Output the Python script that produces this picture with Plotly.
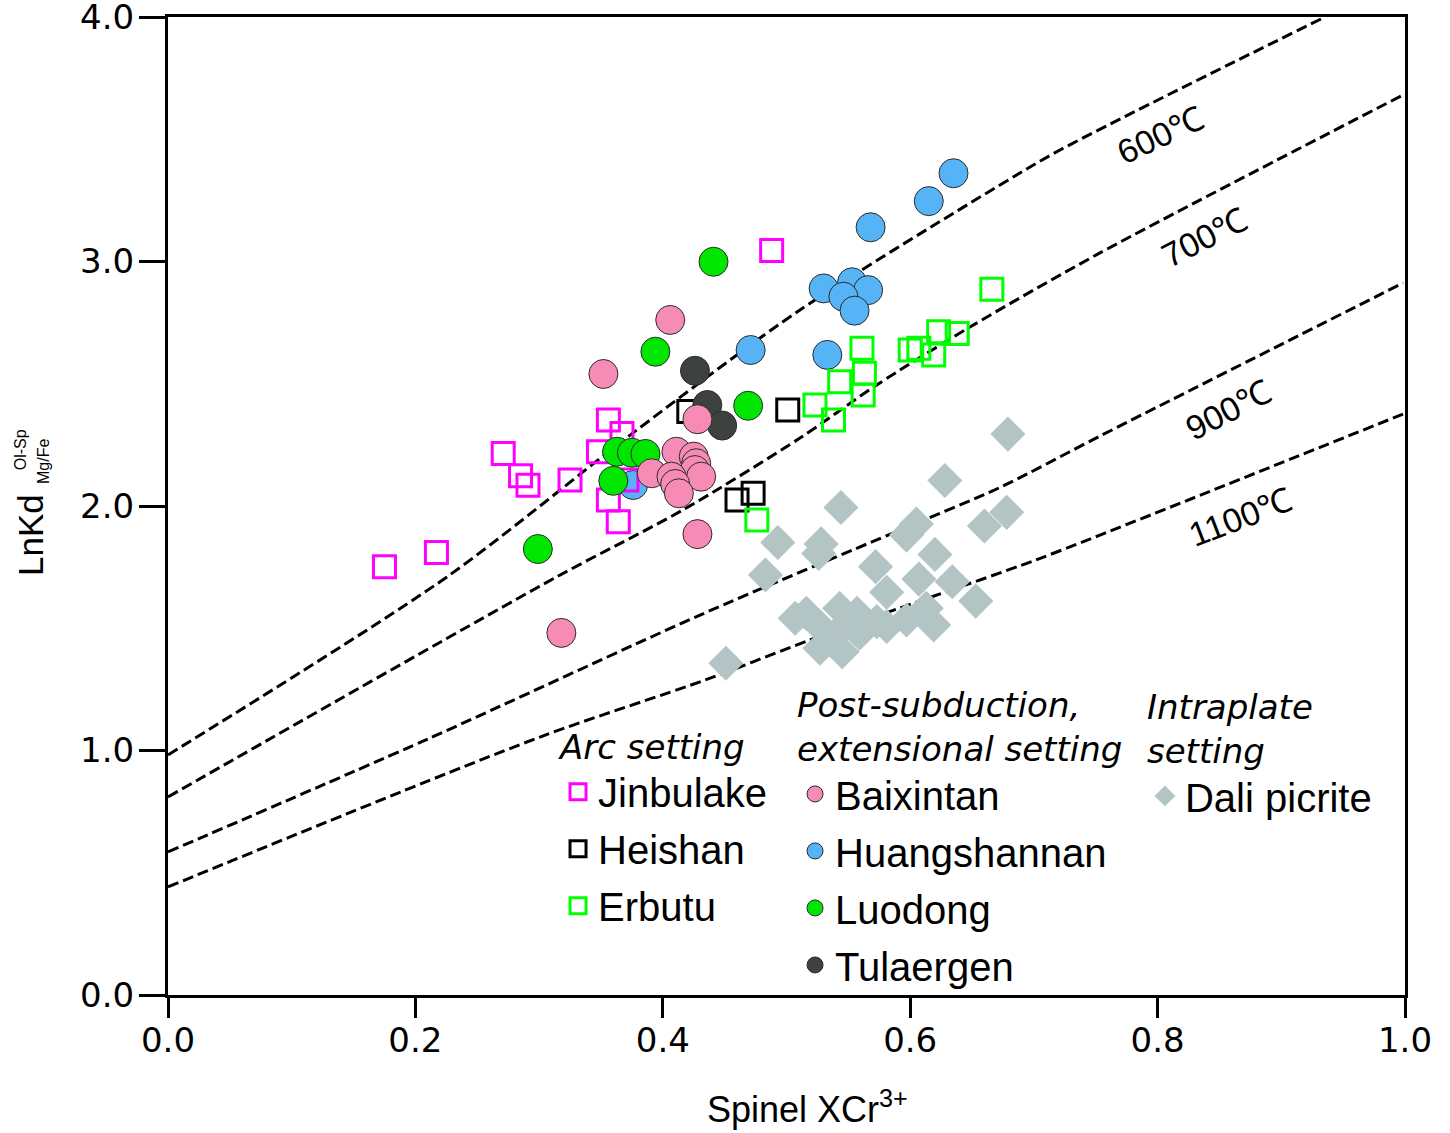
import plotly.graph_objects as go

# ---------------- data ----------------
jinbulake_x = [0.488, 0.271, 0.285, 0.291, 0.325, 0.356, 0.367, 0.348, 0.371, 0.356, 0.364, 0.217, 0.175]
jinbulake_y = [3.045, 2.215, 2.124, 2.085, 2.106, 2.352, 2.297, 2.222, 2.106, 2.025, 1.936, 1.810, 1.752]

heishan_x = [0.421, 0.501, 0.460, 0.473]
heishan_y = [2.386, 2.393, 2.025, 2.052]

erbutu_x = [0.561, 0.563, 0.543, 0.562, 0.523, 0.538, 0.600, 0.607, 0.623, 0.638, 0.619, 0.666, 0.476]
erbutu_y = [2.645, 2.543, 2.508, 2.454, 2.413, 2.352, 2.638, 2.645, 2.713, 2.706, 2.618, 2.886, 1.943]

baixintan_x = [0.406, 0.352, 0.428, 0.411, 0.425, 0.427, 0.426, 0.431, 0.391, 0.407, 0.410, 0.413, 0.428, 0.318]
baixintan_y = [2.761, 2.540, 2.355, 2.222, 2.202, 2.175, 2.147, 2.120, 2.134, 2.120, 2.090, 2.052, 1.885, 1.481]

huangshannan_x = [0.635, 0.615, 0.568, 0.530, 0.553, 0.566, 0.546, 0.555, 0.471, 0.533, 0.376]
huangshannan_y = [3.361, 3.247, 3.140, 2.890, 2.915, 2.883, 2.856, 2.799, 2.638, 2.618, 2.086]

luodong_x = [0.441, 0.394, 0.469, 0.363, 0.375, 0.386, 0.360, 0.299]
luodong_y = [2.999, 2.631, 2.410, 2.222, 2.218, 2.213, 2.103, 1.824]

tulaergen_x = [0.426, 0.436, 0.448]
tulaergen_y = [2.553, 2.413, 2.329]

dali_x = [0.679, 0.628, 0.544, 0.678, 0.660, 0.605, 0.597, 0.493, 0.528, 0.526, 0.620,
          0.483, 0.572, 0.607, 0.634, 0.581, 0.653, 0.507, 0.516, 0.543, 0.557, 0.527,
          0.543, 0.573, 0.581, 0.597, 0.613, 0.619, 0.527, 0.545, 0.451, 0.535, 0.559]
dali_y = [2.294, 2.104, 1.994, 1.974, 1.918, 1.926, 1.881, 1.851, 1.845, 1.806, 1.802,
          1.718, 1.752, 1.701, 1.690, 1.647, 1.611, 1.541, 1.561, 1.582, 1.561, 1.507,
          1.493, 1.527, 1.507, 1.534, 1.582, 1.513, 1.418, 1.404, 1.357, 1.452, 1.480]

# isotherms
iso_names = ["600℃", "700℃", "900℃", "1100℃"]
iso600_x = [0.0, 0.2255, 0.3759, 0.5109, 0.6726, 0.7211, 0.9337]
iso600_y = [0.982, 1.710, 2.299, 2.802, 3.313, 3.456, 3.996]
iso700_x = [0.0, 0.3142, 0.4163, 0.5109, 0.5729, 0.6483, 0.7534, 0.9984]
iso700_y = [0.810, 1.710, 1.984, 2.278, 2.495, 2.732, 3.035, 3.681]
iso900_x = [0.0, 0.2118, 0.4301, 0.5918, 0.6726, 0.7534, 0.9984]
iso900_y = [0.585, 1.051, 1.554, 1.902, 2.076, 2.286, 2.912]
iso1100_x = [0.0, 0.3007, 0.4341, 0.5190, 0.5918, 0.6993, 0.7534, 0.9984]
iso1100_y = [0.442, 1.055, 1.288, 1.452, 1.583, 1.775, 1.881, 2.376]

# label positions for isotherm names (data coords) and their angles
iso_label_x = [0.802, 0.838, 0.857, 0.867]
iso_label_y = [3.517, 3.100, 2.393, 1.955]
iso_label_angle = [-25, -27, -27, -21]

x_ticks = [0.0, 0.2, 0.4, 0.6, 0.8, 1.0]
y_ticks = [0.0, 1.0, 2.0, 3.0, 4.0]

# ---------------- figure ----------------
fig = go.Figure()

iso_x = [iso600_x, iso700_x, iso900_x, iso1100_x]
iso_y = [iso600_y, iso700_y, iso900_y, iso1100_y]
for xs, ys, nm in zip(iso_x, iso_y, iso_names):
    fig.add_trace(go.Scatter(
        x=xs, y=ys, mode="lines", name=nm, showlegend=False, hoverinfo="skip",
        line=dict(color="black", width=3, dash="11px,5px", shape="spline", smoothing=0.8),
    ))

CIRCLE_LINE = dict(color="#2b2b2b", width=1)

def open_square(xs, ys, name, color, legend, rank):
    return go.Scatter(
        x=xs, y=ys, mode="markers", name=name, legend=legend, legendgroup=name, legendrank=rank,
        marker=dict(symbol="square", size=22, color="rgba(0,0,0,0)", line=dict(color=color, width=3)),
    )

def circle(xs, ys, name, color, legend, rank):
    return go.Scatter(
        x=xs, y=ys, mode="markers", name=name, legend=legend, legendgroup=name, legendrank=rank,
        marker=dict(symbol="circle", size=29, color=color, line=CIRCLE_LINE),
    )

# drawing order follows the overlaps in the reference
fig.add_trace(circle(huangshannan_x, huangshannan_y, "Huangshannan", "#55b3f6", "legend2", 2))
fig.add_trace(open_square(heishan_x, heishan_y, "Heishan", "#000000", "legend", 2))
fig.add_trace(open_square(jinbulake_x, jinbulake_y, "Jinbulake", "#ff00ff", "legend", 1))
fig.add_trace(circle(luodong_x, luodong_y, "Luodong", "#00e600", "legend2", 3))
fig.add_trace(circle(tulaergen_x, tulaergen_y, "Tulaergen", "#3e423f", "legend2", 4))
fig.add_trace(circle(baixintan_x, baixintan_y, "Baixintan", "#f68bb6", "legend2", 1))
fig.add_trace(open_square(erbutu_x, erbutu_y, "Erbutu", "#00ff00", "legend", 3))
fig.add_trace(go.Scatter(
    x=dali_x, y=dali_y, mode="markers", name="Dali picrite", legend="legend3",
    legendgroup="Dali picrite",
    marker=dict(symbol="diamond", size=27, color="#b3c4c4", line=dict(width=0)),
))

# isotherm labels
for t, lx, ly, ang in zip(iso_names, iso_label_x, iso_label_y, iso_label_angle):
    fig.add_annotation(x=lx, y=ly, xref="x", yref="y", text=t, showarrow=False,
                       textangle=ang, font=dict(family="Liberation Sans, Arial", size=34, color="black"))

# axis titles
fig.add_annotation(x=0.517, y=-0.1145, xref="paper", yref="paper", showarrow=False,
                   text="Spinel XCr<sup>3+</sup>", xanchor="center", yanchor="middle",
                   font=dict(family="Liberation Sans, Arial", size=36, color="black"))
fig.add_annotation(x=-0.1116, y=0.4703, xref="paper", yref="paper", showarrow=False,
                   text="LnKd", textangle=-90, xanchor="center", yanchor="middle",
                   font=dict(family="Liberation Sans, Arial", size=35, color="black"))
fig.add_annotation(x=-0.1196, y=0.557, xref="paper", yref="paper", showarrow=False,
                   text="Ol-Sp", textangle=-90, xanchor="center", yanchor="middle",
                   font=dict(family="Liberation Sans, Arial", size=16, color="black"))
fig.add_annotation(x=-0.1002, y=0.545, xref="paper", yref="paper", showarrow=False,
                   text="Mg/Fe", textangle=-90, xanchor="center", yanchor="middle",
                   font=dict(family="Liberation Sans, Arial", size=16, color="black"))

ITEM_FONT = dict(family="Liberation Sans, Arial", size=40, color="black")
TITLE_FONT = dict(family="DejaVu Sans", size=34, color="black", style="italic")

def legend_box(x, y, title):
    return dict(x=x, y=y, xanchor="left", yanchor="top", xref="paper", yref="paper",
                bgcolor="rgba(0,0,0,0)", borderwidth=0, font=ITEM_FONT,
                title=dict(text=title, font=TITLE_FONT, side="top"),
                tracegroupgap=2, itemwidth=30, traceorder="grouped")

axis_common = dict(
    showgrid=False, zeroline=False, showline=True, linecolor="black", linewidth=3,
    mirror=True, ticks="outside", tickwidth=3, tickcolor="black",
    tickformat=".1f", tickfont=dict(family="DejaVu Sans", size=34, color="black"),
    ticklabeloverflow="allow", automargin=False,
)

fig.update_layout(
    width=1450, height=1133,
    margin=dict(l=168, r=45, t=17, b=138, autoexpand=False),
    paper_bgcolor="white", plot_bgcolor="white",
    font=dict(family="Liberation Sans, Arial", color="black"),
    xaxis=dict(range=[0, 1], tickvals=x_ticks, ticklen=20, ticklabelstandoff=-7, **axis_common),
    yaxis=dict(range=[0, 4], tickvals=y_ticks, ticklen=26, ticklabelstandoff=-2, **axis_common),
    legend=legend_box(0.3153, 0.2863, "Arc setting"),
    legend2=legend_box(0.5069, 0.3292, "Post-subduction,<br>extensional setting"),
    legend3=legend_box(0.7898, 0.3272, "Intraplate<br>setting"),
    showlegend=True,
)

fig.write_html("out.html", config={"displayModeBar": False},
               post_script="document.body.style.margin='0px';")
